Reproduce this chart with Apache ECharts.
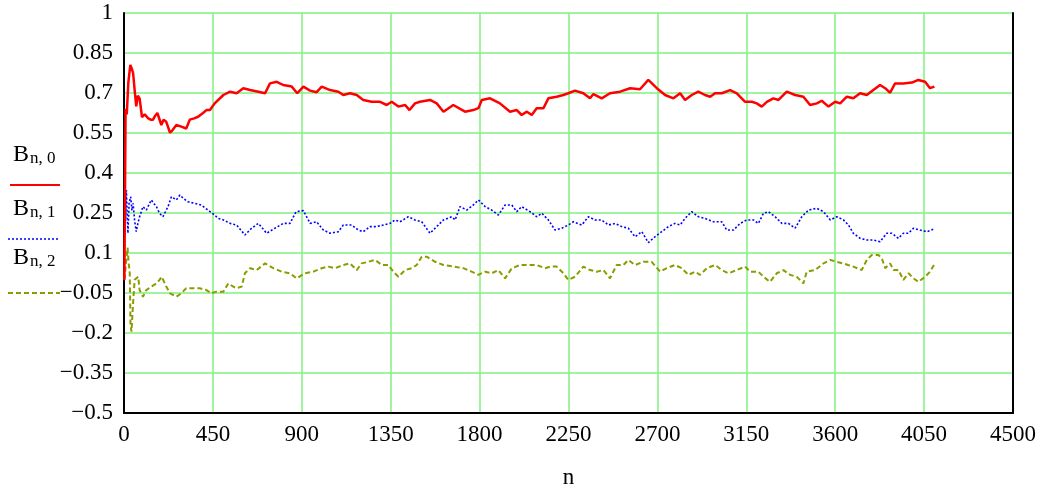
<!DOCTYPE html>
<html>
<head>
<meta charset="utf-8">
<script src="https://cdn.jsdelivr.net/npm/echarts@6/dist/echarts.min.js"></script>
<style>
html,body{margin:0;padding:0;background:#fff;}
#c{width:1047px;height:491px;}
</style>
</head>
<body>
<div id="c"></div>
<script>
// n-axis ticks and value-axis ticks
const xTicks = [0, 450, 900, 1350, 1800, 2250, 2700, 3150, 3600, 4050, 4500];
const yTicks = [-0.5, -0.35, -0.2, -0.05, 0.1, 0.25, 0.4, 0.55, 0.7, 0.85, 1];

// B(n,0) — [n, value]
const b0 = [[2,0.0],[8,0.64],[14,0.62],[22,0.74],[32,0.805],[40,0.79],[46,0.775],[54,0.71],[62,0.65],[70,0.69],[79,0.68],[91,0.61],[105,0.62],[121,0.606],[135,0.6],[147,0.6],[158,0.615],[169,0.625],[189,0.58],[200,0.6],[214,0.592],[233,0.551],[245,0.56],[265,0.58],[290,0.574],[315,0.567],[333,0.6],[355,0.605],[375,0.611],[400,0.625],[417,0.636],[435,0.636],[459,0.661],[469,0.661],[503,0.6925],[537,0.705],[570,0.699],[604,0.718],[638,0.711],[680,0.705],[714,0.699],[739,0.736],[773,0.742],[806,0.73],[849,0.724],[877,0.699],[908,0.724],[942,0.709],[975,0.703],[1001,0.724],[1043,0.711],[1085,0.705],[1110,0.6925],[1144,0.699],[1178,0.6925],[1211,0.674],[1254,0.667],[1296,0.667],[1330,0.655],[1355,0.667],[1389,0.649],[1423,0.655],[1445,0.636],[1473,0.661],[1498,0.667],[1549,0.674],[1583,0.661],[1617,0.63],[1667,0.655],[1726,0.63],[1768,0.636],[1794,0.643],[1811,0.674],[1853,0.68],[1903,0.661],[1954,0.63],[1988,0.636],[2013,0.6175],[2039,0.63],[2064,0.6175],[2089,0.643],[2123,0.643],[2148,0.68],[2190,0.686],[2224,0.6925],[2249,0.699],[2283,0.709],[2325,0.699],[2359,0.68],[2376,0.696],[2418,0.68],[2460,0.699],[2511,0.705],[2562,0.718],[2612,0.714],[2654,0.749],[2697,0.718],[2739,0.6925],[2781,0.68],[2815,0.699],[2840,0.674],[2874,0.6925],[2907,0.705],[2941,0.6925],[2967,0.686],[2992,0.699],[3026,0.699],[3068,0.711],[3102,0.699],[3144,0.667],[3178,0.667],[3203,0.661],[3228,0.649],[3254,0.667],[3287,0.68],[3313,0.674],[3355,0.705],[3397,0.6925],[3439,0.686],[3473,0.655],[3507,0.661],[3532,0.671],[3566,0.649],[3600,0.667],[3625,0.661],[3659,0.686],[3692,0.68],[3726,0.699],[3760,0.6925],[3793,0.711],[3827,0.73],[3853,0.718],[3878,0.701],[3903,0.736],[3945,0.736],[3988,0.739],[4021,0.749],[4055,0.742],[4080,0.718],[4102,0.724]];

// B(n,1) — [n, value]
const b1 = [[3,0.33],[8,0.22],[12,0.336],[16,0.25],[20,0.174],[26,0.29],[34,0.311],[40,0.26],[46,0.286],[54,0.22],[62,0.18],[70,0.21],[79,0.236],[96,0.274],[113,0.261],[138,0.299],[152,0.285],[164,0.274],[180,0.249],[197,0.236],[223,0.274],[240,0.311],[265,0.299],[283,0.3175],[300,0.305],[324,0.292],[358,0.286],[391,0.28],[425,0.261],[459,0.2425],[476,0.23],[503,0.224],[537,0.211],[570,0.205],[612,0.1675],[646,0.193],[680,0.211],[722,0.174],[764,0.193],[806,0.211],[840,0.211],[871,0.255],[908,0.259],[942,0.211],[975,0.217],[1009,0.186],[1043,0.174],[1085,0.18],[1110,0.205],[1153,0.205],[1186,0.186],[1211,0.18],[1245,0.199],[1279,0.199],[1313,0.205],[1347,0.211],[1372,0.224],[1397,0.217],[1439,0.236],[1473,0.224],[1507,0.217],[1549,0.174],[1583,0.199],[1617,0.224],[1659,0.236],[1676,0.224],[1701,0.274],[1735,0.261],[1768,0.28],[1794,0.299],[1828,0.274],[1861,0.261],[1895,0.2425],[1929,0.28],[1963,0.28],[1988,0.255],[2013,0.274],[2055,0.255],[2089,0.236],[2115,0.249],[2148,0.224],[2182,0.186],[2216,0.193],[2249,0.205],[2275,0.217],[2317,0.205],[2351,0.236],[2384,0.224],[2418,0.224],[2452,0.205],[2486,0.211],[2520,0.199],[2553,0.193],[2587,0.161],[2621,0.18],[2654,0.139],[2688,0.161],[2722,0.18],[2756,0.199],[2789,0.211],[2815,0.205],[2840,0.23],[2874,0.255],[2907,0.236],[2941,0.23],[2984,0.217],[3026,0.217],[3051,0.186],[3085,0.186],[3119,0.211],[3152,0.224],[3186,0.224],[3211,0.211],[3237,0.249],[3262,0.255],[3296,0.236],[3330,0.211],[3363,0.211],[3397,0.193],[3431,0.236],[3465,0.261],[3507,0.2675],[3541,0.255],[3575,0.224],[3608,0.236],[3642,0.224],[3667,0.205],[3692,0.174],[3726,0.155],[3760,0.149],[3793,0.149],[3827,0.1425],[3861,0.174],[3887,0.174],[3920,0.155],[3945,0.174],[3971,0.174],[3996,0.193],[4030,0.186],[4064,0.18],[4097,0.189]];

// B(n,2) — [n, value]
const b2 = [[2,0.0],[10,0.0],[18,0.12],[24,0.06],[29,0.025],[33,-0.17],[38,-0.195],[45,-0.1],[54,0.0],[62,0.005],[72,0.011],[79,-0.039],[96,-0.064],[113,-0.039],[138,-0.026],[164,-0.014],[180,-0.001],[191,0.011],[214,-0.026],[233,-0.051],[265,-0.064],[290,-0.051],[315,-0.032],[349,-0.032],[383,-0.032],[417,-0.039],[442,-0.051],[467,-0.045],[503,-0.045],[528,-0.014],[553,-0.026],[570,-0.032],[596,-0.026],[612,0.024],[638,0.043],[672,0.036],[714,0.061],[756,0.043],[798,0.03],[840,0.024],[874,0.005],[916,0.024],[958,0.03],[1001,0.043],[1034,0.049],[1068,0.043],[1110,0.055],[1144,0.061],[1178,0.036],[1203,0.061],[1237,0.067],[1271,0.074],[1305,0.055],[1338,0.055],[1363,0.03],[1389,0.011],[1423,0.036],[1456,0.043],[1482,0.055],[1507,0.086],[1532,0.086],[1575,0.067],[1617,0.055],[1667,0.049],[1718,0.043],[1760,0.03],[1794,0.018],[1828,0.03],[1861,0.024],[1895,0.036],[1929,0.005],[1963,0.043],[2005,0.055],[2047,0.055],[2089,0.055],[2131,0.043],[2157,0.049],[2190,0.049],[2224,0.024],[2249,-0.001],[2283,0.011],[2325,0.049],[2359,0.036],[2393,0.03],[2427,0.036],[2460,0.005],[2494,0.055],[2528,0.055],[2553,0.074],[2587,0.055],[2629,0.067],[2671,0.067],[2714,0.03],[2747,0.043],[2789,0.055],[2823,0.043],[2857,0.018],[2891,0.03],[2916,0.018],[2950,0.043],[2992,0.055],[3026,0.036],[3060,0.024],[3102,0.036],[3144,0.049],[3169,0.03],[3211,0.03],[3237,0.011],[3270,-0.008],[3304,0.024],[3338,0.036],[3372,0.018],[3405,0.011],[3439,-0.014],[3456,0.03],[3498,0.036],[3541,0.061],[3575,0.074],[3608,0.067],[3640,0.061],[3665,0.055],[3692,0.049],[3734,0.036],[3760,0.074],[3785,0.0925],[3819,0.0925],[3836,0.08],[3853,0.043],[3878,0.061],[3895,0.036],[3920,0.036],[3945,-0.001],[3971,0.024],[3996,0.005],[4021,-0.008],[4055,0.011],[4080,0.03],[4100,0.055]];

const seriesNames = ['B(n,0)', 'B(n,1)', 'B(n,2)'];

const FONT = '"Liberation Serif", "DejaVu Serif", serif';
const GRID_GREEN = '#80f080';

function fmtY(v) {
  const s = String(parseFloat(Number(v).toFixed(2)));
  return s.replace('-', '\u2212');
}
function fmtX(v) {
  return String(Math.round(v));
}

const chart = echarts.init(document.getElementById('c'), null, {renderer: 'canvas'});

const legendRich = {
  b: {fontFamily: FONT, fontSize: 24, fill: '#000', verticalAlign: 'bottom'},
  s: {fontFamily: FONT, fontSize: 17, fill: '#000', padding: [12, 0, 0, 1], verticalAlign: 'bottom'}
};

const option = {
  backgroundColor: '#ffffff',
  animation: false,
  grid: {left: 124, top: 13, width: 889, height: 400, containLabel: false, outerBoundsMode: 'none'},
  xAxis: {
    type: 'value',
    min: xTicks[0],
    max: xTicks[xTicks.length - 1],
    interval: xTicks[1] - xTicks[0],
    name: 'n',
    nameLocation: 'middle',
    nameGap: 53,
    nameTextStyle: {fontFamily: FONT, fontSize: 23, color: '#000'},
    axisLine: {show: true, onZero: false, lineStyle: {color: '#000', width: 2}},
    axisTick: {show: false},
    axisLabel: {fontFamily: FONT, fontSize: 23, color: '#000', margin: 10, formatter: fmtX, showMaxLabel: true, showMinLabel: true},
    splitLine: {show: true, lineStyle: {color: GRID_GREEN, width: 1.5}}
  },
  yAxis: [{
    type: 'value',
    min: yTicks[0],
    max: yTicks[yTicks.length - 1],
    interval: 0.15,
    axisLine: {show: true, onZero: false, lineStyle: {color: '#000', width: 2}},
    axisTick: {show: false},
    axisLabel: {fontFamily: FONT, fontSize: 23, color: '#000', margin: 11, formatter: fmtY, showMaxLabel: true, showMinLabel: true},
    splitLine: {show: true, lineStyle: {color: GRID_GREEN, width: 1.5}}
  }, {
    type: 'value',
    position: 'right',
    min: yTicks[0],
    max: yTicks[yTicks.length - 1],
    interval: 0.15,
    axisLine: {show: true, onZero: false, lineStyle: {color: '#000', width: 2}},
    axisTick: {show: false},
    axisLabel: {show: false},
    splitLine: {show: false}
  }],
  series: [
    {name: seriesNames[0], type: 'line', data: b0, showSymbol: false, symbol: 'none', smooth: false,
     lineStyle: {color: '#ff0000', width: 2.5, type: 'solid'}, z: 5},
    {name: seriesNames[1], type: 'line', data: b1, showSymbol: false, symbol: 'none', smooth: false,
     lineStyle: {color: '#0000ff', width: 1.6, type: [2, 2]}, z: 4},
    {name: seriesNames[2], type: 'line', data: b2, showSymbol: false, symbol: 'none', smooth: false,
     lineStyle: {color: '#8c9c00', width: 2, type: [5, 3]}, z: 3}
  ],
  graphic: [
    {type: 'text', left: 13, top: 143, style: {text: '{b|B}{s|n, 0}', rich: legendRich}},
    {type: 'line', shape: {x1: 10, y1: 185, x2: 60, y2: 185}, style: {stroke: '#ff0000', lineWidth: 2}},
    {type: 'text', left: 13, top: 197, style: {text: '{b|B}{s|n, 1}', rich: legendRich}},
    {type: 'line', shape: {x1: 8, y1: 239, x2: 58, y2: 239}, style: {stroke: '#0000ff', lineWidth: 1.5, lineDash: [2, 2]}},
    {type: 'text', left: 13, top: 246, style: {text: '{b|B}{s|n, 2}', rich: legendRich}},
    {type: 'line', shape: {x1: 8, y1: 293, x2: 60, y2: 293}, style: {stroke: '#8c9c00', lineWidth: 2, lineDash: [5, 3]}}
  ]
};

chart.setOption(option);
</script>
</body>
</html>
